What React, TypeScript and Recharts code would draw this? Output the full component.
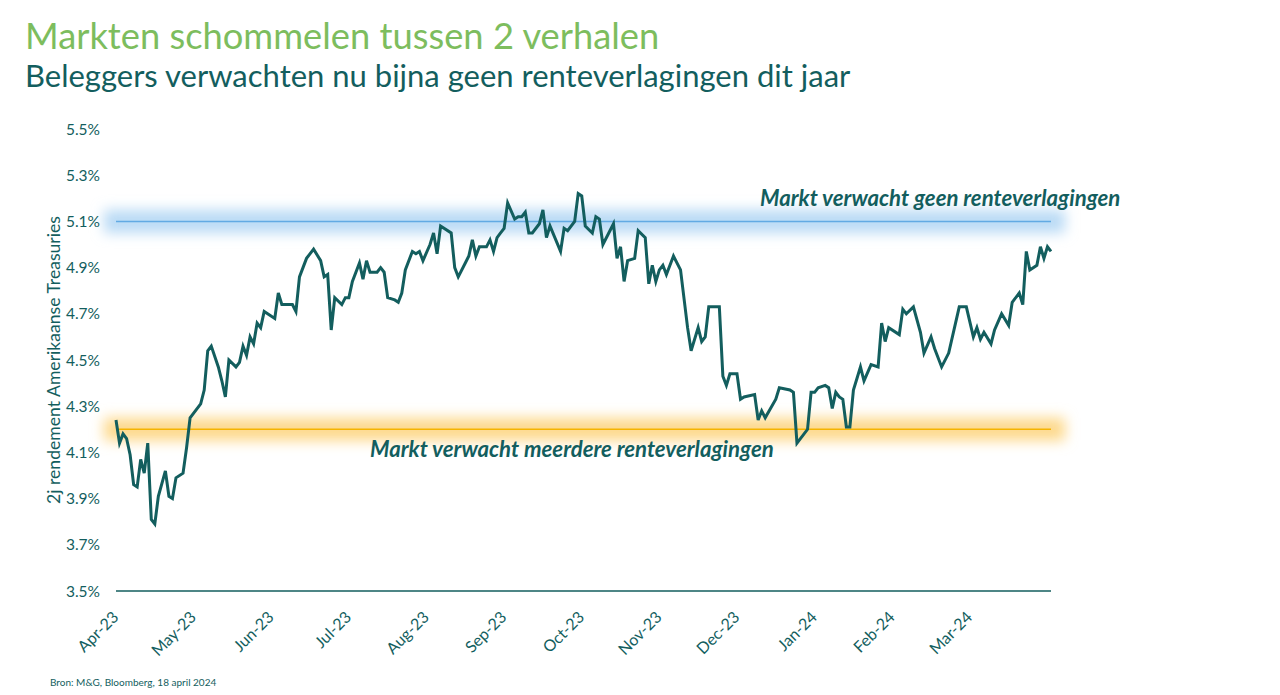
import React from "react";
import {
  LineChart,
  Line,
  XAxis,
  YAxis,
  ReferenceLine,
  ReferenceArea,
} from "recharts";

// trading-day index (0 = begin april 2023) and 2-year US Treasury yield (%)
const days = [
  0, 1, 2, 3, 4, 5, 6, 7, 8, 9, 10, 11, 12, 14, 15, 16, 17, 19, 20, 21,
  24, 25, 26, 27, 29, 30, 31, 32, 34, 35, 36, 37, 38, 39, 40, 41, 42, 45, 46, 47,
  50, 51, 52, 53, 54, 56, 58, 59, 60, 61, 62, 64, 65, 66, 67, 69, 70, 71, 72, 74,
  75, 76, 77, 79, 80, 81, 82, 84, 85, 86, 87, 89, 90, 91, 92, 95, 96, 97, 99, 100,
  101, 102, 103, 105, 106, 107, 108, 109, 110, 111, 113, 114, 115, 116, 117, 118, 120, 121, 122, 123,
  126, 127, 128, 130, 131, 132, 133, 135, 136, 137, 138, 141, 142, 143, 144, 145, 147, 148, 150, 151,
  152, 153, 154, 155, 156, 158, 160, 162, 163, 165, 166, 167, 168, 171, 172, 173, 174, 176, 177, 178,
  181, 182, 183, 184, 187, 188, 191, 192, 193, 196, 197, 198, 199, 201, 202, 203, 204, 205, 206, 207,
  208, 209, 210, 211, 212, 214, 216, 217, 218, 219, 222, 223, 224, 226, 228, 229, 231, 232, 234, 236,
  239, 241, 243, 244, 245, 246, 248, 249, 251, 253, 254, 256, 257, 258, 259, 261, 262, 263, 264, 265,
];

const yields = [
  4.24, 4.14, 4.18, 4.16, 4.09, 3.96, 3.95, 4.07, 4.01, 4.14, 3.81, 3.79, 3.91, 4.02, 3.91, 3.9, 3.99, 4.01, 4.12, 4.25,
  4.31, 4.37, 4.54, 4.56, 4.47, 4.41, 4.34, 4.5, 4.47, 4.49, 4.56, 4.52, 4.6, 4.57, 4.66, 4.64, 4.71, 4.68, 4.79, 4.74,
  4.74, 4.71, 4.86, 4.9, 4.94, 4.98, 4.93, 4.86, 4.87, 4.63, 4.77, 4.74, 4.77, 4.77, 4.84, 4.92, 4.85, 4.93, 4.88, 4.88,
  4.9, 4.88, 4.77, 4.76, 4.75, 4.79, 4.89, 4.97, 4.96, 4.97, 4.93, 5.0, 5.05, 4.96, 5.08, 5.05, 4.9, 4.86, 4.92, 4.95,
  5.02, 4.95, 4.99, 4.99, 5.02, 4.97, 5.03, 5.05, 5.07, 5.18, 5.11, 5.12, 5.12, 5.14, 5.05, 5.05, 5.09, 5.15, 5.03, 5.08,
  4.97, 5.07, 5.06, 5.1, 5.22, 5.21, 5.08, 5.05, 5.12, 5.11, 5.0, 5.09, 4.94, 4.99, 4.84, 4.93, 4.94, 5.06, 5.03, 4.83,
  4.91, 4.84, 4.89, 4.91, 4.87, 4.95, 4.89, 4.64, 4.54, 4.64, 4.58, 4.6, 4.73, 4.73, 4.43, 4.39, 4.44, 4.44, 4.33, 4.34,
  4.35, 4.24, 4.28, 4.25, 4.33, 4.38, 4.37, 4.36, 4.14, 4.2, 4.36, 4.36, 4.38, 4.39, 4.38, 4.29, 4.36, 4.34, 4.33, 4.21,
  4.21, 4.37, 4.42, 4.47, 4.41, 4.48, 4.47, 4.66, 4.58, 4.64, 4.61, 4.72, 4.7, 4.73, 4.62, 4.53, 4.6, 4.55, 4.47, 4.53,
  4.73, 4.73, 4.6, 4.64, 4.59, 4.62, 4.57, 4.63, 4.7, 4.65, 4.75, 4.79, 4.74, 4.97, 4.89, 4.91, 4.99, 4.94, 4.99, 4.97,
];

const monthLabels = [
  "Apr-23", "May-23", "Jun-23", "Jul-23", "Aug-23", "Sep-23",
  "Oct-23", "Nov-23", "Dec-23", "Jan-24", "Feb-24", "Mar-24",
];
const monthTicks = [0, 22, 44, 66, 88, 110, 132, 154, 176, 198, 220, 242];
const yTicks = [3.5, 3.7, 3.9, 4.1, 4.3, 4.5, 4.7, 4.9, 5.1, 5.3, 5.5];

const noCutLevel = 5.1;
const manyCutsLevel = 4.2;

const data = days.map((d, i) => ({ day: d, yield: yields[i] }));

const TEAL = "#135e5e";
const FONT = "Lato, 'Open Sans', sans-serif";

const MonthTick = ({ x, y, payload }: any) => {
  const idx = monthTicks.indexOf(payload.value);
  return (
    <g transform={`translate(${x},${y})`}>
      <text
        x={0}
        y={0}
        dx={-11}
        dy={16}
        textAnchor="end"
        fill={TEAL}
        fontSize={16}
        fontFamily={FONT}
        transform="rotate(-45)"
      >
        {monthLabels[idx]}
      </text>
    </g>
  );
};

// zachte gloed rond de referentielijn
const glowShape = (id: string, color: string) => (props: any) => {
  const { x, y, width, height } = props;
  return (
    <g>
      <defs>
        <filter id={id} x="-5%" y="-300%" width="110%" height="700%">
          <feGaussianBlur stdDeviation="6.5" />
        </filter>
      </defs>
      <rect
        x={x - 12}
        y={y}
        width={width + 26}
        height={height}
        fill={color}
        filter={`url(#${id})`}
      />
    </g>
  );
};

export default function App() {
  return (
    <div
      style={{
        position: "absolute",
        left: 0,
        top: 0,
        width: 1280,
        height: 695,
        background: "#fff",
        fontFamily: FONT,
        overflow: "hidden",
      }}
    >
      <div
        style={{
          position: "absolute",
          left: 25,
          top: 17,
          fontSize: 36.3,
          lineHeight: 1,
          color: "#7dbd5e",
          whiteSpace: "nowrap",
        }}
      >
        Markten schommelen tussen 2 verhalen
      </div>
      <div
        style={{
          position: "absolute",
          left: 25,
          top: 60,
          fontSize: 31,
          lineHeight: 1,
          color: TEAL,
          whiteSpace: "nowrap",
        }}
      >
        Beleggers verwachten nu bijna geen renteverlagingen dit jaar
      </div>

      <div style={{ position: "absolute", left: 0, top: 0 }}>
        <LineChart
          width={1280}
          height={695}
          data={data}
          margin={{ top: 129, right: 229, bottom: 44, left: 56 }}
        >
          <ReferenceArea
            y1={noCutLevel - 0.05}
            y2={noCutLevel + 0.05}
            ifOverflow="visible"
            shape={glowShape("blueGlow", "#b9daf5")}
          />
          <ReferenceArea
            y1={manyCutsLevel - 0.05}
            y2={manyCutsLevel + 0.05}
            ifOverflow="visible"
            shape={glowShape("orangeGlow", "#fdd98c")}
          />
          <XAxis
            dataKey="day"
            type="number"
            domain={[0, 265]}
            ticks={monthTicks}
            interval={0}
            height={60}
            axisLine={{ stroke: TEAL, strokeWidth: 1.5 }}
            tickLine={false}
            tick={<MonthTick />}
          />
          <YAxis
            width={60}
            domain={[3.5, 5.5]}
            ticks={yTicks}
            interval={0}
            axisLine={false}
            tickLine={false}
            tickMargin={10}
            tickFormatter={(v: number) => `${v.toFixed(1)}%`}
            tick={{ fill: TEAL, fontSize: 15.5, fontFamily: FONT }}
            label={{
              content: ({ viewBox }: any) => (
                <text
                  x={viewBox.x - 3}
                  y={viewBox.y + viewBox.height / 2}
                  transform={`rotate(-90, ${viewBox.x - 3}, ${viewBox.y + viewBox.height / 2})`}
                  textAnchor="middle"
                  dominantBaseline="central"
                  fill={TEAL}
                  fontSize={17.6}
                  fontFamily={FONT}
                >
                  2j rendement Amerikaanse Treasuries
                </text>
              ),
            }}
          />
          <ReferenceLine
            y={noCutLevel}
            stroke="#62aae3"
            strokeWidth={1.5}
            label={{
              content: ({ viewBox }: any) => (
                <text
                  x={viewBox.x + 644}
                  y={viewBox.y - 15}
                  fill={TEAL}
                  fontSize={22.2}
                  fontWeight={700}
                  fontStyle="italic"
                  fontFamily={FONT}
                >
                  Markt verwacht geen renteverlagingen
                </text>
              ),
            }}
          />
          <ReferenceLine
            y={manyCutsLevel}
            stroke="#f5b400"
            strokeWidth={1.5}
            label={{
              content: ({ viewBox }: any) => (
                <text
                  x={viewBox.x + 254}
                  y={viewBox.y + 28}
                  fill={TEAL}
                  fontSize={22.2}
                  fontWeight={700}
                  fontStyle="italic"
                  fontFamily={FONT}
                >
                  Markt verwacht meerdere renteverlagingen
                </text>
              ),
            }}
          />
          <Line
            type="linear"
            dataKey="yield"
            stroke={TEAL}
            strokeWidth={3}
            dot={false}
            activeDot={false}
            isAnimationActive={false}
          />
        </LineChart>
      </div>

      <div
        style={{
          position: "absolute",
          left: 50,
          top: 676,
          fontSize: 10,
          color: TEAL,
          whiteSpace: "nowrap",
        }}
      >
        Bron: M&amp;G, Bloomberg, 18 april 2024
      </div>
    </div>
  );
}
